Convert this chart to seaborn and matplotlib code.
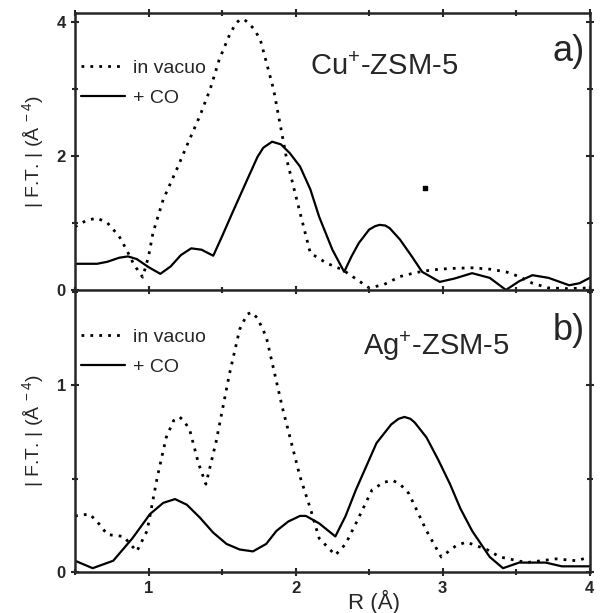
import matplotlib
matplotlib.use("Agg")
import matplotlib.pyplot as plt
from matplotlib.lines import Line2D
from matplotlib.ticker import MultipleLocator
import seaborn as sns

# Cu+-ZSM-5 (panel a)
cu_vac_r = [0.5, 0.58, 0.65, 0.72, 0.8, 0.85, 0.9, 0.96, 1.0, 1.03, 1.1, 1.19, 1.27, 1.35, 1.42,
            1.48, 1.55, 1.59, 1.62, 1.65, 1.68, 1.72, 1.76, 1.85, 1.94, 2.03, 2.10, 2.21, 2.32, 2.42,
            2.5, 2.6, 2.71, 2.82, 2.93, 3.05, 3.2, 3.32, 3.43, 3.52, 3.61, 3.72, 3.85, 4.0]
cu_vac_y = [0.94, 1.04, 1.07, 1.0, 0.8, 0.6, 0.38, 0.19, 0.5, 0.85, 1.35, 1.79, 2.2, 2.6, 3.0,
            3.43, 3.8, 3.96, 4.03, 4.03, 3.98, 3.88, 3.73, 2.99, 1.94, 1.15, 0.55, 0.4, 0.30, 0.15,
            0.03, 0.08, 0.2, 0.26, 0.3, 0.32, 0.33, 0.31, 0.27, 0.2, 0.1, 0.03, 0.02, 0.03]
cu_co_r = [0.5, 0.6, 0.65, 0.72, 0.8, 0.86, 0.92, 1.0, 1.08, 1.15, 1.22, 1.29, 1.36, 1.44, 1.5,
           1.57, 1.67, 1.74, 1.78, 1.84, 1.9, 1.96, 2.03, 2.1, 2.16, 2.25, 2.33, 2.38, 2.43, 2.5,
           2.54, 2.57, 2.61, 2.64, 2.71, 2.79, 2.86, 2.98, 3.08, 3.2, 3.32, 3.43, 3.52, 3.61, 3.72,
           3.86, 3.93, 4.0]
cu_co_y = [0.39, 0.39, 0.39, 0.42, 0.48, 0.5, 0.46, 0.34, 0.24, 0.35, 0.52, 0.62, 0.6, 0.51, 0.8,
           1.15, 1.64, 1.98, 2.12, 2.21, 2.17, 2.04, 1.84, 1.5, 1.09, 0.6, 0.27, 0.5, 0.7, 0.9,
           0.95, 0.97, 0.96, 0.92, 0.75, 0.5, 0.27, 0.12, 0.17, 0.25, 0.18, 0.0, 0.13, 0.22, 0.18,
           0.07, 0.1, 0.18]
cu_dot = (2.88, 1.52)  # stray speck in the scan

# Ag+-ZSM-5 (panel b)
ag_vac_r = [0.5, 0.6, 0.66, 0.72, 0.83, 0.92, 0.99, 1.06, 1.12, 1.17, 1.21, 1.24, 1.28, 1.34, 1.39,
            1.46, 1.55, 1.62, 1.67, 1.70, 1.74, 1.80, 1.91, 2.03, 2.1, 2.16, 2.27, 2.34, 2.41, 2.52,
            2.6, 2.66, 2.71, 2.77, 2.89, 2.99, 3.09, 3.16, 3.30, 3.39, 3.57, 3.77, 3.91, 4.0]
ag_vac_y = [0.30, 0.31, 0.26, 0.20, 0.19, 0.11, 0.22, 0.51, 0.72, 0.81, 0.83, 0.81, 0.76, 0.58, 0.47,
            0.70, 1.06, 1.30, 1.38, 1.39, 1.36, 1.26, 0.88, 0.51, 0.34, 0.18, 0.09, 0.15, 0.26, 0.44,
            0.48, 0.49, 0.47, 0.42, 0.22, 0.08, 0.14, 0.16, 0.12, 0.08, 0.05, 0.07, 0.06, 0.08]
ag_co_r = [0.5, 0.62, 0.76, 0.89, 1.01, 1.1, 1.18, 1.26, 1.35, 1.44, 1.53, 1.62, 1.71, 1.8, 1.87,
           1.95, 2.03, 2.07, 2.16, 2.27, 2.34, 2.41, 2.55, 2.65, 2.7, 2.74, 2.78, 2.81, 2.89, 2.97,
           3.05, 3.12, 3.2, 3.32, 3.41, 3.52, 3.7, 3.81, 4.0]
ag_co_y = [0.06, 0.02, 0.06, 0.18, 0.31, 0.37, 0.39, 0.36, 0.29, 0.21, 0.15, 0.12, 0.11, 0.15, 0.22,
           0.27, 0.30, 0.30, 0.26, 0.19, 0.3, 0.44, 0.69, 0.79, 0.82, 0.83, 0.82, 0.80, 0.72, 0.60,
           0.47, 0.34, 0.22, 0.08, 0.02, 0.05, 0.05, 0.03, 0.03]

sns.set_style("ticks")
plt.rcParams["font.family"] = ["Liberation Sans", "DejaVu Sans"]
plt.rcParams["mathtext.fontset"] = "custom"
plt.rcParams["mathtext.rm"] = "Liberation Sans"
plt.rcParams["mathtext.it"] = "Liberation Sans"

fig = plt.figure(figsize=(6.07, 6.13), dpi=100)
ax_a = fig.add_axes([0.1236, 0.527, 0.848, 0.452])
ax_b = fig.add_axes([0.1236, 0.067, 0.848, 0.460], sharex=ax_a)

dot_style = (0, (1, 2.2))
ylab = "| F.T. | (Å$^{\\ -4}$)"

panels = [
    (ax_a, cu_vac_r, cu_vac_y, cu_co_r, cu_co_y, 4.13, 2, 1,
     "Cu$^{+}$-ZSM-5", (0.456, 0.805), "a)", 0.86, 0.875),
    (ax_b, ag_vac_r, ag_vac_y, ag_co_r, ag_co_y, 1.51, 1, 0.5,
     "Ag$^{+}$-ZSM-5", (0.56, 0.80), "b)", 0.857, 0.905),
]

for ax, vr, vy, cr, cy, ytop, ymaj, ymin, name, name_xy, tag, tag_y, leg_y in panels:
    sns.lineplot(x=vr, y=vy, ax=ax, color="black", lw=2.0, linestyle=dot_style)
    sns.lineplot(x=cr, y=cy, ax=ax, color="black", lw=1.6)
    ax.set_xlim(0.5, 4.0)
    ax.set_ylim(0, ytop)
    ax.xaxis.set_major_locator(MultipleLocator(1))
    ax.xaxis.set_minor_locator(MultipleLocator(0.5))
    ax.yaxis.set_major_locator(MultipleLocator(ymaj))
    ax.yaxis.set_minor_locator(MultipleLocator(ymin))
    ax.tick_params(axis="both", which="both", top=True, right=True, width=1.5)
    ax.tick_params(axis="both", which="major", length=6, direction="inout")
    ax.tick_params(axis="both", which="minor", length=4, direction="inout")
    ax.tick_params(labelsize=12)
    for lbl in ax.get_yticklabels() + ax.get_xticklabels():
        lbl.set_fontweight("bold")
    for side in ["left", "top", "bottom", "right"]:
        ax.spines[side].set_linewidth(1.8)
    ax.set_ylabel(ylab, fontsize=14, labelpad=8)
    ax.text(name_xy[0], name_xy[1], name, transform=ax.transAxes, fontsize=21,
            ha="left", va="center")
    ax.text(0.99, tag_y, tag, transform=ax.transAxes, fontsize=26, ha="right", va="center")
    handles = [Line2D([], [], color="black", lw=2.0, linestyle=dot_style),
               Line2D([], [], color="black", lw=1.6)]
    ax.legend(handles, ["in vacuo", "+ CO"], loc="upper left", bbox_to_anchor=(-0.012, leg_y),
              frameon=False, fontsize=14, handlelength=2.3, handletextpad=0.4,
              labelspacing=0.65, borderaxespad=0.2)

ax_a.spines["bottom"].set_linewidth(1.0)
ax_a.tick_params(axis="x", labelbottom=False)
ax_a.scatter([cu_dot[0]], [cu_dot[1]], s=6, marker="s", color="black")
ax_b.set_xlabel("R (Å)", fontsize=16)
ax_b.xaxis.set_label_coords(0.58, -0.062)
ax_a.set_xlabel("")

fig.savefig("out.png", dpi=100)
